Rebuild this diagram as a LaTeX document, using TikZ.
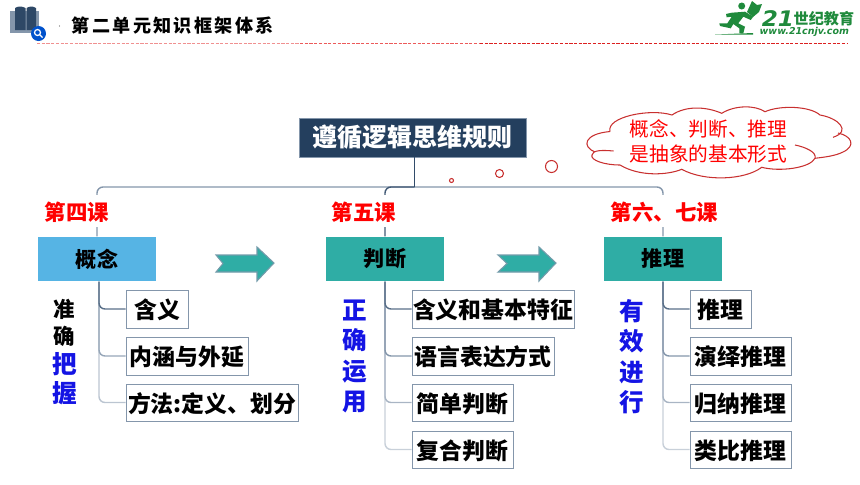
\documentclass[tikz,border=0pt]{standalone}
\usepackage{fontspec}
\setmainfont{Noto Sans CJK SC}
\newfontfamily\headfont[LetterSpace=13]{Noto Sans CJK SC}
\newfontfamily\logofont{DejaVu Sans}
\usepackage{tikz}
\usetikzlibrary{calc}
\definecolor{navy}{HTML}{243F5E}
\definecolor{sky}{HTML}{56B4E4}
\definecolor{teal2}{HTML}{2FADA5}
\definecolor{edge}{HTML}{8496AB}
\definecolor{ink}{HTML}{1414E4}
\definecolor{logo}{HTML}{1F8A3C}
\definecolor{puff}{HTML}{C8302F}
\definecolor{dashpale}{HTML}{F09090}
\definecolor{dashmid}{HTML}{EC5A5A}
\definecolor{dashdeep}{HTML}{DC2020}
\def\notcharrow[#1](#2,#3,#4){\draw[#1] (#2,#4-8) -- (#2+41,#4-8) -- (#2+41,#4-16) -- (#2+58,#4) -- (#2+41,#4+18) -- (#2+41,#4+9) -- (#2,#4+9) -- (#2+#3,#4+.5) -- cycle;}
\tikzset{
	chapter/.style={draw=none, fill=teal2, minimum width=11.8mm, minimum height=4.4mm, inner sep=0, font=\fontsize{6}{7}\selectfont\bfseries},
	point/.style={draw=edge, line width=0.25pt, fill=white, minimum height=3.8mm, inner sep=0, text height=6.3pt, text depth=0.7pt, font=\fontsize{6.5}{7}\selectfont\bfseries},
	lesson/.style={fill=white, minimum height=3.2mm, inner sep=0, text height=6pt, text depth=0.7pt, text=red, font=\fontsize{6.1}{7}\selectfont\bfseries},
	link/.style={line width=0.4pt, rounded corners=0.6mm},
	verb/.style={inner sep=0, align=center, text=ink, font=\fontsize{7}{8.65}\selectfont\bfseries},
	puffdot/.style={draw=puff, line width=0.3pt, fill=white},
	pointer/.style={fill=teal2, draw=edge!80!teal2, line width=0.3pt},
	headdash/.style={dash pattern=on 0.32mm off 0.15mm, line width=0.4pt},
}

\begin{document}
\begin{tikzpicture}[x=0.1mm, y=-0.1mm]
			%%%%% FRAME %%%%%
			\useasboundingbox (0, 0) rectangle (860, 484);
			
			\fill[edge] (10, 11) rectangle (39, 33);
			\fill[navy!90!edge] (15, 8) .. controls (18, 6) and (22, 6) .. (25.5, 8) -- (25.5, 30) -- (15, 30) -- cycle;
			\fill[navy!90!edge] (26.5, 8) .. controls (30, 6) and (33, 6) .. (36, 8) -- (36, 30) -- (26.5, 30) -- cycle;
			\fill[blue!60!cyan!80!black] (38.5, 33.5) circle (7.5);
			\draw[white, line width=0.35pt] (37.5, 32.5) circle (3);
			\draw[white, line width=0.35pt] (39.5, 34.5) -- (42.5, 37.5);
			\fill[black!60] (59.5, 26) circle (0.7);
			\node[anchor=west, inner sep=0, font=\fontsize{5.15}{6}\headfont\bfseries] (head) at (71, 26) {第二单元知识框架体系};
			\draw[headdash, draw=dashpale] (37, 43.3) -- (300, 43.3);
			\draw[headdash, draw=dashmid] (300, 43.3) -- (480, 43.3);
			\draw[headdash, draw=dashdeep] (480, 43.3) -- (848, 43.3);
			
			%%%%% LOGO %%%%%
			\fill[logo] (741.7, 6) circle (3.5);
			\fill[logo] (747, 12) -- (752, 1) -- (757, 5) -- (762, 4) -- (759, 12) -- (753, 17) -- cycle;
			\fill[logo] (731.7, 12.7) -- (745, 11.7) -- (753.3, 16.7) -- (750.7, 20) -- (743.3, 16.7) -- (738.3, 23.3) -- (745, 26.7) -- (743.3, 33.3) -- (739.3, 33.3) -- (739.3, 28.3) -- (733.3, 24) -- (730.7, 28.3) -- (720, 26) -- (719.3, 23.3) -- (727.3, 23.3) -- (731.7, 16.7) -- (726.7, 17.3) -- (726, 14) -- cycle;
			\fill[logo] (715, 34.5) -- (753, 33) -- (753, 34.5) -- cycle;
			\node[anchor=west, inner sep=0, text=logo, xscale=1.08, font=\fontsize{6.1}{7}\logofont\bfseries\itshape] (brand) at (761, 18.5) {21};
			\node[anchor=west, inner sep=0, text=logo, font=\fontsize{4.3}{5}\selectfont\bfseries] (brandcn) at (793, 18.5) {世纪教育};
			\node[anchor=west, inner sep=0, text=logo, font=\fontsize{2.7}{3}\logofont\bfseries\itshape] (site) at (759, 32) {www.21cnjv.com};
			
			%%%%% BOXES %%%%%
			\node[fill=navy, draw=edge, line width=0.25pt, minimum width=22.7mm, minimum height=3.9mm, inner sep=0, text=white, font=\fontsize{7.1}{8}\selectfont\bfseries] (rule) at (412.5, 137.5) {遵循逻辑思维规则};
			\coordinate (hub) at (414.7, 187);
			
			\node[chapter, fill=sky] (concept) at (97, 259) {概念};
			\node[chapter] (judge) at (385, 259) {判断};
			\node[chapter] (reason) at (663, 259) {推理};
			
			\node[point, minimum width=6.2mm] (meaning) at (157, 309) {含义};
			\node[point, minimum width=12.2mm] (scope) at (187, 356) {内涵与外延};
			\node[point, minimum width=17.2mm, minimum height=3.7mm] (method) at (212, 402.5) {方法:定义、划分};
			
			\node[point, minimum width=16.2mm] (jmean) at (493, 309) {含义和基本特征};
			\node[point, minimum width=14.2mm] (jform) at (483, 356) {语言表达方式};
			\node[point, minimum width=10.1mm, minimum height=3.7mm] (jsimple) at (462.5, 402.5) {简单判断};
			\node[point, minimum width=10.1mm, minimum height=3.7mm] (jcomp) at (462.5, 449.5) {复合判断};
			
			\node[point, minimum width=6.1mm] (rbase) at (720.5, 309) {推理};
			\node[point, minimum width=10.1mm] (rded) at (740.5, 356) {演绎推理};
			\node[point, minimum width=10.1mm, minimum height=3.7mm] (rind) at (740.5, 402.5) {归纳推理};
			\node[point, minimum width=10.1mm, minimum height=3.7mm] (rana) at (740.5, 449.5) {类比推理};
			
			%%%%% LINKS %%%%%
			\draw[link, color=edge] (hub) -| (concept.north);
			\draw[link, color=edge] (hub) -| (reason.north);
			\draw[link, color=navy!70!edge] (hub) -| (judge.north);
			\draw[line width=0.45pt, color=navy!85!edge] ([xshift=0.22mm]rule.south) -- (hub);
			
			\draw[link, color=edge!55] ([xshift=0.2mm]concept.south) |- (method.west);
			\draw[link, color=edge!85] ([xshift=0.2mm]concept.south) |- (scope.west);
			\draw[link, color=navy!45!edge] ([xshift=0.2mm]concept.south) |- (meaning.west);
			
			\draw[link, color=edge!45] (judge.south) |- (jcomp.west);
			\draw[link, color=edge!70] (judge.south) |- (jsimple.west);
			\draw[link, color=edge] (judge.south) |- (jform.west);
			\draw[link, color=navy!45!edge] (judge.south) |- (jmean.west);
			
			\draw[link, color=edge!45] (reason.south) |- (rana.west);
			\draw[link, color=edge!70] (reason.south) |- (rind.west);
			\draw[link, color=edge] (reason.south) |- (rded.west);
			\draw[link, color=navy!45!edge] (reason.south) |- (rbase.west);
			
			%%%%% LESSONS %%%%%
			\node[lesson] (four) at (77, 211) {第四课};
			\node[lesson] (five) at (364, 211) {第五课};
			\node[lesson] (six) at (664.5, 211) {第六、七课};
			
			\node[verb, text=black, font=\fontsize{6.1}{7.7}\selectfont\bfseries] (zhun) at (64, 322.5) {准\\确};
			\node[verb, font=\fontsize{7}{8.2}\selectfont\bfseries] (ba) at (65, 378.5) {把\\握};
			\node[verb] (zheng) at (354.5, 356.5) {正\\确\\运\\用};
			\node[verb] (you) at (631.5, 356.5) {有\\效\\进\\行};
			
			%%%%% ARROWS %%%%%
			\notcharrow[pointer](216,7,263);
			\notcharrow[pointer](498,9,263);
			
			%%%%% CLOUD %%%%%
			\draw[line width=0.3pt, color=puff] (610, 131.5) .. controls (606, 117) and (650, 108) .. (672, 115)
				.. controls (685, 106) and (705, 106) .. (721.7, 113.3)
				.. controls (735, 105) and (755, 105) .. (765, 111.7)
				.. controls (780, 105) and (810, 106) .. (820, 115)
				.. controls (838, 118) and (852, 131) .. (833, 137.3);
			\draw[line width=0.3pt, color=puff] (838, 133) .. controls (852, 136) and (856, 146) .. (843, 152)
				.. controls (835, 156) and (825, 157) .. (815, 158.3)
				.. controls (810, 168) and (780, 172) .. (761.7, 167.3)
				.. controls (745, 180) and (705, 182) .. (681.7, 169.3)
				.. controls (668, 175) and (640, 177) .. (620, 165)
				.. controls (604, 165) and (590, 160) .. (592, 155)
				.. controls (592, 150) and (603, 150) .. (613.5, 151);
			\draw[line width=0.3pt, color=puff] (815, 158.3) .. controls (817, 152) and (805, 147) .. (795, 145);
			\draw[line width=0.3pt, color=puff] (595, 152) .. controls (582, 147) and (583, 134) .. (610, 131.5);
			\node[inner sep=0, align=center, text=red, font=\fontsize{5.6}{7.1}\selectfont] (form) at (708.5, 141.5) {概念、判断、推理\\是抽象的基本形式};
			
			\draw[puffdot] (451.5, 180.5) circle (2);
			\draw[puffdot] (499.5, 173.5) circle (4);
			\draw[puffdot] (551.5, 166.5) circle (6);
			
			%%%%% END %%%%%
		\end{tikzpicture}
\end{document}
